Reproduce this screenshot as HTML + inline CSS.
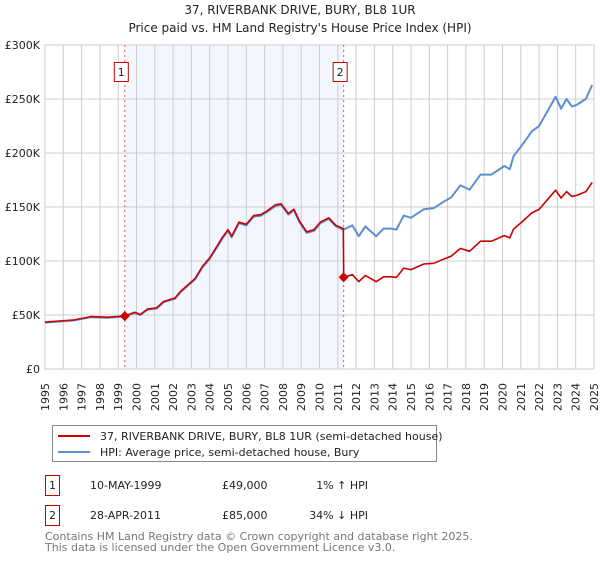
<!DOCTYPE html>
<html><head><meta charset="utf-8"><style>
body{margin:0;background:#fff;width:600px;height:560px;overflow:hidden;font-family:"DejaVu Sans","Liberation Sans",sans-serif;}
svg text{font-family:"DejaVu Sans","Liberation Sans",sans-serif;}
</style></head><body>
<svg id="chart" width="600" height="560" xmlns="http://www.w3.org/2000/svg">
<text x="300" y="14" text-anchor="middle" font-size="12" fill="#222">37, RIVERBANK DRIVE, BURY, BL8 1UR</text>
<text x="300" y="32" text-anchor="middle" font-size="12" fill="#222">Price paid vs. HM Land Registry's House Price Index (HPI)</text>
<g id="plot"></g>
<g>
<rect x="52.5" y="425.5" width="384" height="36" fill="#fff" stroke="#888"/>
<line x1="58" y1="436" x2="90" y2="436" stroke="#cc0000" stroke-width="2"/>
<text x="100" y="440" font-size="11" fill="#222">37, RIVERBANK DRIVE, BURY, BL8 1UR (semi-detached house)</text>
<line x1="58" y1="452" x2="90" y2="452" stroke="#5b8fd4" stroke-width="2"/>
<text x="100" y="456" font-size="11" fill="#222">HPI: Average price, semi-detached house, Bury</text>
</g>
<g>
<rect x="45.5" y="475.5" width="14" height="20" fill="#fff" stroke="#cc0000"/>
<text x="52.5" y="489" text-anchor="middle" font-size="11" fill="#222">1</text>
<text x="90" y="489" font-size="11" fill="#222">10-MAY-1999</text>
<text x="222" y="489" font-size="11" fill="#222">£49,000</text>
<text x="368" y="489" font-size="11" fill="#222" text-anchor="end">1% ↑ HPI</text>
</g>
<g>
<rect x="45.5" y="505.5" width="14" height="20" fill="#fff" stroke="#cc0000"/>
<text x="52.5" y="519" text-anchor="middle" font-size="11" fill="#222">2</text>
<text x="90" y="519" font-size="11" fill="#222">28-APR-2011</text>
<text x="222" y="519" font-size="11" fill="#222">£85,000</text>
<text x="368" y="519" font-size="11" fill="#222" text-anchor="end">34% ↓ HPI</text>
</g>
<text x="45" y="540" font-size="11" fill="#777">Contains HM Land Registry data © Crown copyright and database right 2025.</text>
<text x="45" y="551" font-size="11" fill="#777">This data is licensed under the Open Government Licence v3.0.</text>
</svg>
<script>
const yTicks=[0,50,100,150,200,250,300];
const yTickLabels=["£0","£50K","£100K","£150K","£200K","£250K","£300K"];
const years=[1995,1996,1997,1998,1999,2000,2001,2002,2003,2004,2005,2006,2007,2008,2009,2010,2011,2012,2013,2014,2015,2016,2017,2018,2019,2020,2021,2022,2023,2024,2025];
const hpiDates=[1995.0,1995.8,1996.6,1997.5,1998.4,1999.35,1999.9,2000.2,2000.6,2001.1,2001.5,2002.1,2002.4,2002.8,2003.2,2003.6,2004.0,2004.3,2004.7,2005.0,2005.2,2005.6,2006.0,2006.4,2006.8,2007.1,2007.6,2007.9,2008.3,2008.6,2008.9,2009.3,2009.7,2010.05,2010.5,2010.9,2011.3,2011.8,2012.15,2012.5,2013.1,2013.5,2013.9,2014.2,2014.6,2015.0,2015.7,2016.25,2016.7,2017.2,2017.7,2018.2,2018.8,2019.4,2020.1,2020.4,2020.6,2021.1,2021.6,2022.0,2022.5,2022.9,2023.2,2023.5,2023.8,2024.1,2024.55,2024.9];
const hpiValues=[43,44,45,48,47.5,48.5,52,50,55,56,62,65,71,77,83,94,102,110,121,128,122,135,133,141,142,145,151,152,143,147,136,126,128,135,139,132,129,133,123,132,123,130,130,129,142,140,148,149,154,159,170,166,180,180,188,185,197,208,220,225,240,252,241,250,243,245,250,263];
const priceDates=[1995.0,1995.8,1996.6,1997.5,1998.4,1999.35,1999.9,2000.2,2000.6,2001.1,2001.5,2002.1,2002.4,2002.8,2003.2,2003.6,2004.0,2004.3,2004.7,2005.0,2005.2,2005.6,2006.0,2006.4,2006.8,2007.1,2007.6,2007.9,2008.3,2008.6,2008.9,2009.3,2009.7,2010.05,2010.5,2010.9,2011.3,2011.32,2011.8,2012.15,2012.5,2013.1,2013.5,2013.9,2014.2,2014.6,2015.0,2015.7,2016.25,2016.7,2017.2,2017.7,2018.2,2018.8,2019.4,2020.1,2020.4,2020.6,2021.1,2021.6,2022.0,2022.5,2022.9,2023.2,2023.5,2023.8,2024.1,2024.55,2024.9];
const priceValues=[43.4,44.4,45.5,48.5,48,49,52.5,50.5,55.5,56.6,62.6,65.7,71.7,77.8,83.8,94.9,103,111,122,129,123,136,134,142,143,146,152,153,144,148,137,127,129,136,140,133,130,85,87.4,80.8,86.7,80.8,85.4,85.4,84.8,93.3,92,97.2,97.9,101.2,104.5,111.7,109,118.3,118.3,123.5,121.5,129.4,136.7,144.5,147.8,157.7,165.6,158.3,164.3,159.7,161,164.3,172.8];
const saleDates=[1999.36,2011.32];
const saleValues=[49,85];
const saleLabels=["1","2"];

const X0=45,X1=594,Y0=369,Y1=45;
const xs=d=>X0+(d-1995)/(2025-1995)*(X1-X0);
const ys=v=>Y0-v/300*(Y0-Y1);
const NS="http://www.w3.org/2000/svg";
const plot=document.getElementById('plot');
function mk(tag,attrs,parent){const e=document.createElementNS(NS,tag);for(const k in attrs)e.setAttribute(k,attrs[k]);(parent||plot).appendChild(e);return e;}

const shade=mk('rect',{x:xs(saleDates[0]),y:Y1,width:xs(saleDates[1])-xs(saleDates[0]),height:Y0-Y1,fill:'#eef3fc',opacity:'0.7'});



years.forEach(y=>{
  const l=mk('line',{x1:xs(y),x2:xs(y),y1:Y1,y2:Y0,stroke:'#cccccc','stroke-width':1});
  
  
  const tx=xs(y)+4,ty=383;
  const t=mk('text',{x:tx,y:ty,'text-anchor':'end','font-size':11,fill:'#222',transform:`rotate(-90 ${tx} ${ty})`});
  t.textContent=y;
  
  
});
yTicks.forEach((v,i)=>{
  const l=mk('line',{x1:X0,x2:X1,y1:ys(v),y2:ys(v),stroke:'#cccccc','stroke-width':1});
  
  
  const t=mk('text',{x:40,y:ys(v)+4,'text-anchor':'end','font-size':11,fill:'#222'});
  t.textContent=yTickLabels[i];
  
  
});
const frame=mk('rect',{x:X0,y:Y1,width:X1-X0,height:Y0-Y1,fill:'none',stroke:'#cccccc'});



saleDates.forEach((d,i)=>{
  const l=mk('line',{x1:xs(d),x2:xs(d),y1:Y1,y2:Y0,stroke:'#ee5555','stroke-width':1,'stroke-dasharray':'2,3'});
  
  
  const b=mk('rect',{x:xs(d)-10.5,y:62.5,width:14,height:19,fill:'#fff',stroke:'#cc0000'});
  
  
  const t=mk('text',{x:xs(d)-3.5,y:76,'text-anchor':'middle','font-size':11,fill:'#222'});
  t.textContent=saleLabels[i];
  
  
});

const hp=mk('path',{d:hpiDates.map((d,i)=>(i?'L':'M')+xs(d).toFixed(1)+','+ys(hpiValues[i]).toFixed(1)).join(''),fill:'none',stroke:'#5b8fd4','stroke-width':2,'stroke-linejoin':'round'});


const pp=mk('path',{d:priceDates.map((d,i)=>(i?'L':'M')+xs(d).toFixed(1)+','+ys(priceValues[i]).toFixed(1)).join(''),fill:'none',stroke:'#cc0000','stroke-width':1.6,'stroke-linejoin':'round'});



saleDates.forEach((d,i)=>{
  const cx=xs(d),cy=ys(saleValues[i]);
  const m=mk('path',{d:`M${cx},${cy-5}L${cx+5},${cy}L${cx},${cy+5}L${cx-5},${cy}Z`,fill:'#cc0000'});
  
  
});
</script>
</body></html>
